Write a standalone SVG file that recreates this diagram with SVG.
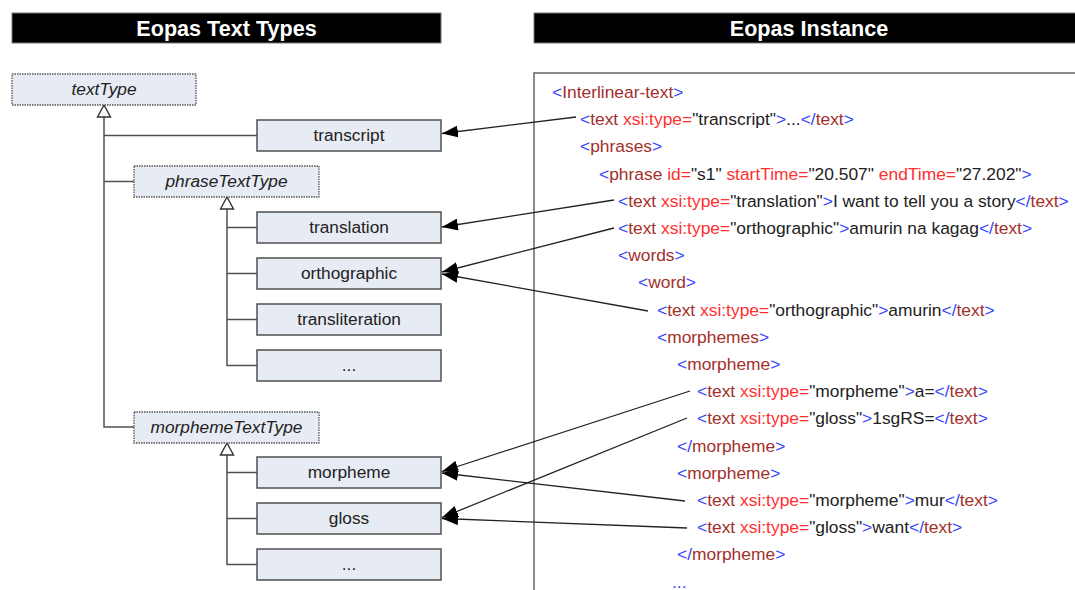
<svg xmlns="http://www.w3.org/2000/svg" xmlns:xlink="http://www.w3.org/1999/xlink" width="1075" height="590" viewBox="0 0 1075 590">
<style>
text{font-family:'Liberation Sans',Arial,sans-serif}
.hdr{fill:#000;stroke:#777;stroke-width:1}
.htxt{fill:#fff;font-size:21.6px;font-weight:bold;text-anchor:middle}
.box{fill:#e7ebf3;stroke:#505050;stroke-width:1.5}
.abs{fill:#e7ebf3;stroke:#555;stroke-width:1.3;stroke-dasharray:1.5,1}
.ntxt{font-size:17.3px;fill:#222;text-anchor:middle}
.itxt{font-size:17.3px;fill:#222;text-anchor:middle;font-style:italic}
.tree{fill:none;stroke:#505050;stroke-width:1.5}
.inhTri{fill:#fff;stroke:#333;stroke-width:1.4}
.ref{fill:none;stroke:#222;stroke-width:1.3;marker-end:url(#ah)}
.xbox{fill:#fff;stroke:#666;stroke-width:1.5}
.x{font-size:17.4px}
.b{fill:#3344ff}
.m{fill:#a3302c}
.r{fill:#ff3030}
.k{fill:#222}
</style>
<defs>
<marker id="ah" viewBox="0 0 16 12" refX="16" refY="6" markerWidth="16" markerHeight="12" markerUnits="userSpaceOnUse" orient="auto">
<path d="M0,0 L16,6 L0,12 z" fill="#000"/>
</marker>
<polygon id="inh" class="inhTri" points="0,0 -6.5,12 6.5,12"/>
</defs>
<rect width="1075" height="590" fill="#fff"/>

<g id="header-left">
<rect class="hdr" x="12" y="13" width="429" height="30"/>
<text class="htxt" x="226.5" y="35.5">Eopas Text Types</text>
</g>
<g id="header-right">
<rect class="hdr" x="534" y="13" width="545" height="30"/>
<text class="htxt" x="809" y="35.5">Eopas Instance</text>
</g>

<g id="tree-lines">
<path class="tree" d="M104,117 V427 H134 M104,135.5 H257 M104,181.5 H134"/>
<path class="tree" d="M227,209 V365.5 H257 M227,227.5 H257 M227,273.5 H257 M227,319.5 H257"/>
<path class="tree" d="M227,455 V564.5 H257 M227,472.5 H257 M227,518.5 H257"/>
<use href="#inh" x="104" y="105"/>
<use href="#inh" x="227" y="197"/>
<use href="#inh" x="227" y="443"/>
</g>

<g id="textType">
<rect class="abs" x="12" y="74" width="184" height="31"/>
<text class="itxt" x="104" y="95">textType</text>
</g>
<g id="transcript">
<rect class="box" x="257" y="120" width="184" height="31"/>
<text class="ntxt" x="349" y="140.5">transcript</text>
</g>
<g id="phraseTextType">
<rect class="abs" x="134" y="166" width="185" height="31"/>
<text class="itxt" x="226.5" y="186.5">phraseTextType</text>
</g>
<g id="translation">
<rect class="box" x="257" y="212" width="184" height="31"/>
<text class="ntxt" x="349" y="232.5">translation</text>
</g>
<g id="orthographic">
<rect class="box" x="257" y="258" width="184" height="31"/>
<text class="ntxt" x="349" y="278.5">orthographic</text>
</g>
<g id="transliteration">
<rect class="box" x="257" y="304" width="184" height="31"/>
<text class="ntxt" x="349" y="324.5">transliteration</text>
</g>
<g id="phrase-more">
<rect class="box" x="257" y="350" width="184" height="31"/>
<text class="ntxt" x="349" y="370.5">...</text>
</g>
<g id="morphemeTextType">
<rect class="abs" x="134" y="412" width="185" height="31"/>
<text class="itxt" x="226.5" y="432.5">morphemeTextType</text>
</g>
<g id="morpheme">
<rect class="box" x="257" y="457" width="184" height="31"/>
<text class="ntxt" x="349" y="477.5">morpheme</text>
</g>
<g id="gloss">
<rect class="box" x="257" y="503" width="184" height="31"/>
<text class="ntxt" x="349" y="523.5">gloss</text>
</g>
<g id="morpheme-more">
<rect class="box" x="257" y="549" width="184" height="31"/>
<text class="ntxt" x="349" y="569.5">...</text>
</g>

<g id="instance">
<rect class="xbox" x="534" y="73" width="600" height="600"/>
<text class="x" x="552" y="98"><tspan class="b">&lt;</tspan><tspan class="m">Interlinear-text</tspan><tspan class="b">&gt;</tspan></text>
<text class="x" x="580" y="125.2"><tspan class="b">&lt;</tspan><tspan class="m">text</tspan><tspan class="r"> xsi:type=</tspan><tspan class="k">"transcript"</tspan><tspan class="b">&gt;</tspan><tspan class="k">...</tspan><tspan class="b">&lt;/</tspan><tspan class="m">text</tspan><tspan class="b">&gt;</tspan></text>
<text class="x" x="580" y="152.4"><tspan class="b">&lt;</tspan><tspan class="m">phrases</tspan><tspan class="b">&gt;</tspan></text>
<text class="x" x="599" y="179.6"><tspan class="b">&lt;</tspan><tspan class="m">phrase</tspan><tspan class="r"> id=</tspan><tspan class="k">"s1"</tspan><tspan class="r"> startTime=</tspan><tspan class="k">"20.507"</tspan><tspan class="r"> endTime=</tspan><tspan class="k">"27.202"</tspan><tspan class="b">&gt;</tspan></text>
<text class="x" x="618" y="206.8"><tspan class="b">&lt;</tspan><tspan class="m">text</tspan><tspan class="r"> xsi:type=</tspan><tspan class="k">"translation"</tspan><tspan class="b">&gt;</tspan><tspan class="k">I want to tell you a story</tspan><tspan class="b">&lt;/</tspan><tspan class="m">text</tspan><tspan class="b">&gt;</tspan></text>
<text class="x" x="618" y="234"><tspan class="b">&lt;</tspan><tspan class="m">text</tspan><tspan class="r"> xsi:type=</tspan><tspan class="k">"orthographic"</tspan><tspan class="b">&gt;</tspan><tspan class="k">amurin na kagag</tspan><tspan class="b">&lt;/</tspan><tspan class="m">text</tspan><tspan class="b">&gt;</tspan></text>
<text class="x" x="618" y="261.2"><tspan class="b">&lt;</tspan><tspan class="m">words</tspan><tspan class="b">&gt;</tspan></text>
<text class="x" x="638" y="288.4"><tspan class="b">&lt;</tspan><tspan class="m">word</tspan><tspan class="b">&gt;</tspan></text>
<text class="x" x="657" y="315.6"><tspan class="b">&lt;</tspan><tspan class="m">text</tspan><tspan class="r"> xsi:type=</tspan><tspan class="k">"orthographic"</tspan><tspan class="b">&gt;</tspan><tspan class="k">amurin</tspan><tspan class="b">&lt;/</tspan><tspan class="m">text</tspan><tspan class="b">&gt;</tspan></text>
<text class="x" x="657" y="342.8"><tspan class="b">&lt;</tspan><tspan class="m">morphemes</tspan><tspan class="b">&gt;</tspan></text>
<text class="x" x="677" y="370"><tspan class="b">&lt;</tspan><tspan class="m">morpheme</tspan><tspan class="b">&gt;</tspan></text>
<text class="x" x="697" y="397.2"><tspan class="b">&lt;</tspan><tspan class="m">text</tspan><tspan class="r"> xsi:type=</tspan><tspan class="k">"morpheme"</tspan><tspan class="b">&gt;</tspan><tspan class="k">a=</tspan><tspan class="b">&lt;/</tspan><tspan class="m">text</tspan><tspan class="b">&gt;</tspan></text>
<text class="x" x="697" y="424.4"><tspan class="b">&lt;</tspan><tspan class="m">text</tspan><tspan class="r"> xsi:type=</tspan><tspan class="k">"gloss"</tspan><tspan class="b">&gt;</tspan><tspan class="k">1sgRS=</tspan><tspan class="b">&lt;/</tspan><tspan class="m">text</tspan><tspan class="b">&gt;</tspan></text>
<text class="x" x="677" y="451.6"><tspan class="b">&lt;/</tspan><tspan class="m">morpheme</tspan><tspan class="b">&gt;</tspan></text>
<text class="x" x="677" y="478.8"><tspan class="b">&lt;</tspan><tspan class="m">morpheme</tspan><tspan class="b">&gt;</tspan></text>
<text class="x" x="697" y="506"><tspan class="b">&lt;</tspan><tspan class="m">text</tspan><tspan class="r"> xsi:type=</tspan><tspan class="k">"morpheme"</tspan><tspan class="b">&gt;</tspan><tspan class="k">mur</tspan><tspan class="b">&lt;/</tspan><tspan class="m">text</tspan><tspan class="b">&gt;</tspan></text>
<text class="x" x="697" y="533.2"><tspan class="b">&lt;</tspan><tspan class="m">text</tspan><tspan class="r"> xsi:type=</tspan><tspan class="k">"gloss"</tspan><tspan class="b">&gt;</tspan><tspan class="k">want</tspan><tspan class="b">&lt;/</tspan><tspan class="m">text</tspan><tspan class="b">&gt;</tspan></text>
<text class="x" x="677" y="560.4"><tspan class="b">&lt;/</tspan><tspan class="m">morpheme</tspan><tspan class="b">&gt;</tspan></text>
<text class="x b" x="672" y="587.6">...</text>
</g>

<g id="connectors">
<line class="ref" x1="576" y1="117" x2="442" y2="133.5"/>
<line class="ref" x1="614" y1="200" x2="442" y2="227"/>
<line class="ref" x1="614" y1="228" x2="442" y2="272"/>
<line class="ref" x1="648" y1="311" x2="442" y2="274"/>
<line class="ref" x1="690" y1="391" x2="442" y2="471.5"/>
<line class="ref" x1="687" y1="418" x2="442" y2="517.5"/>
<line class="ref" x1="685" y1="501" x2="442" y2="473"/>
<line class="ref" x1="687" y1="528" x2="442" y2="518.5"/>
</g>
</svg>
